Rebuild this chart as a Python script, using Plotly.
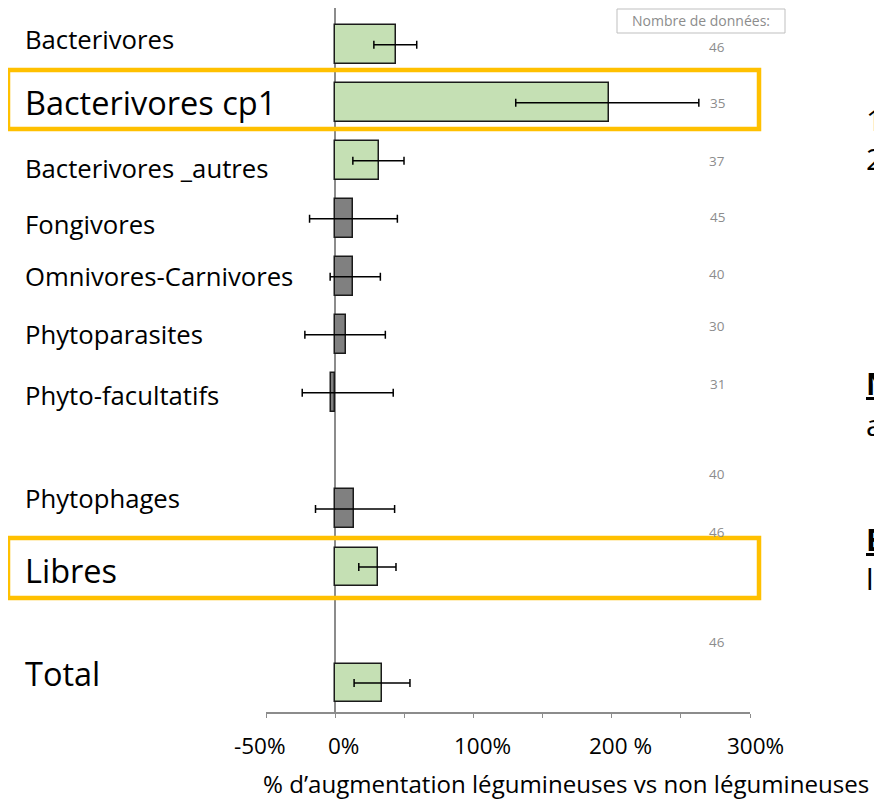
import plotly.graph_objects as go

# ---------------- data ----------------
categories = ["Bacterivores", "Bacterivores cp1", "Bacterivores _autres", "Fongivores",
              "Omnivores-Carnivores", "Phytoparasites", "Phyto-facultatifs",
              "Phytophages", "Libres", "Total"]
pct_increase = [44, 198, 31.7, 12.7, 12.7, 7.5, -3.1, 13.9, 30.8, 34.1]
ci_low = [28, 130.6, 12.8, -18.5, -3.6, -21.9, -23.8, -14.2, 17.1, 13.7]
ci_high = [59, 263, 49.8, 45, 32.7, 36.3, 42, 43, 44, 54.1]
n_data = [46, 35, 37, 45, 40, 30, 31, 40, 46, 46]
significant = [True, True, True, False, False, False, False, False, True, True]
highlighted = ["Bacterivores cp1", "Libres"]
tick_vals = [-50, 0, 50, 100, 150, 200, 250, 300]
label_vals = [-50, 0, 100, 200, 300]
label_text = ["-50%", "0%", "100%", "200 %", "300%"]

# ---------------- layout helpers ----------------
OFF = 8                                   # default page body margin
W, H = 882 - OFF, 801 - OFF
PL, PR, PT, PB = 266, 750, OFF, 712        # plot area, reference pixels
row_order = ["Bacterivores", "Bacterivores cp1", "Bacterivores _autres", "Fongivores",
             "Omnivores-Carnivores", "Phytoparasites", "Phyto-facultatifs", None,
             "Phytophages", "Libres", None, "Total"]
ypos = [row_order.index(c) for c in categories]

def px_x(p):
    return (p - PL) / (PR - PL)

def px_y(p):
    return 1 - (p - PT) / (PB - PT)

FONT = "Open Sans, Liberation Sans, sans-serif"
GREEN = "#C5E0B4"
GREY = "#808080"
colors = [GREEN if s else GREY for s in significant]

fig = go.Figure()
fig.add_trace(go.Bar(
    x=pct_increase, y=ypos, orientation="h",
    marker=dict(color=colors, line=dict(color="#1a1a1a", width=1.5)),
    width=0.67,
    error_x=dict(type="data", symmetric=False,
                 array=[h - v for h, v in zip(ci_high, pct_increase)],
                 arrayminus=[v - l for l, v in zip(ci_low, pct_increase)],
                 color="black", thickness=1.5, width=4),
    showlegend=False, hoverinfo="skip",
))

annotations = []
# category labels (left column)
label_shift = [5, 0, -8, -6, 0, 0, -3, 10, -4, 9]
for c, y, s in zip(categories, ypos, label_shift):
    big = c in highlighted or c == "Total"
    annotations.append(dict(
        x=px_x(23), xref="paper", y=y, yref="y", yshift=s,
        text=c, showarrow=False, xanchor="left", yanchor="middle",
        font=dict(family=FONT, size=32.5 if big else 25.7, color="black")))

# number of data points (right column)
n_shift = [-2, 0, 0, 2, 3, 9, 9, 35, 35, 41]
for n, y, s in zip(n_data, ypos, n_shift):
    annotations.append(dict(
        x=px_x(717), xref="paper", y=y, yref="y", yshift=s,
        text=str(n), showarrow=False, xanchor="center", yanchor="middle",
        font=dict(family=FONT, size=13.5, color="#8c8c8c")))

annotations.append(dict(
    x=px_x(701), xref="paper", y=px_y(21), yref="paper",
    text="Nombre de données:", showarrow=False, xanchor="center", yanchor="middle",
    font=dict(family=FONT, size=14, color="#8c8c8c")))

# x tick labels
tick_shift = [-6, 8, 9, 9, 5]
for v, t, s in zip(label_vals, label_text, tick_shift):
    annotations.append(dict(
        x=v, xref="x", y=px_y(745), yref="paper", xshift=s,
        text=t, showarrow=False, xanchor="center", yanchor="middle",
        font=dict(family=FONT, size=22.5, color="black")))

# x axis title
annotations.append(dict(
    x=px_x(261), xref="paper", y=px_y(783), yref="paper",
    text="% d’augmentation légumineuses vs non légumineuses", showarrow=False,
    xanchor="left", yanchor="middle",
    font=dict(family=FONT, size=24.1, color="black")))

# partially visible slide text on the right edge
for txt, py in [("1", 119), ("2", 158), ("<b><u>N</u></b>", 383), ("a", 424),
                ("<b><u>E</u></b>", 539), ("l", 578)]:
    annotations.append(dict(
        x=px_x(864), xref="paper", y=px_y(py), yref="paper",
        text=txt, showarrow=False, xanchor="left", yanchor="middle",
        font=dict(family=FONT, size=30, color="black")))

shapes = [
    dict(type="rect", xref="paper", yref="paper",
         x0=px_x(617), x1=px_x(785), y0=px_y(9), y1=px_y(33),
         line=dict(color="#BFBFBF", width=1)),
    dict(type="rect", xref="paper", yref="paper",
         x0=px_x(8), x1=px_x(759), y0=px_y(70), y1=px_y(129),
         line=dict(color="#FFC000", width=4.5)),
    dict(type="rect", xref="paper", yref="paper",
         x0=px_x(8), x1=px_x(759), y0=px_y(538), y1=px_y(598),
         line=dict(color="#FFC000", width=4.5)),
]

fig.update_layout(
    width=W, height=H,
    margin=dict(l=PL - OFF, r=882 - PR, t=PT - OFF, b=801 - PB, pad=0),
    paper_bgcolor="white", plot_bgcolor="white",
    font=dict(family=FONT, color="black"),
    xaxis=dict(range=[-50, 300], tickvals=tick_vals, showticklabels=False,
               showgrid=False, zeroline=True, zerolinecolor="#8c8c8c", zerolinewidth=1.5,
               showline=True, linecolor="#8c8c8c", linewidth=1.5,
               ticks="outside", ticklen=4, tickcolor="#8c8c8c"),
    yaxis=dict(range=[11.5, -0.633], showticklabels=False, showgrid=False,
               zeroline=False, showline=False, ticks=""),
    annotations=annotations,
    shapes=shapes,
    bargap=0,
)

fig.write_html("out.html")
